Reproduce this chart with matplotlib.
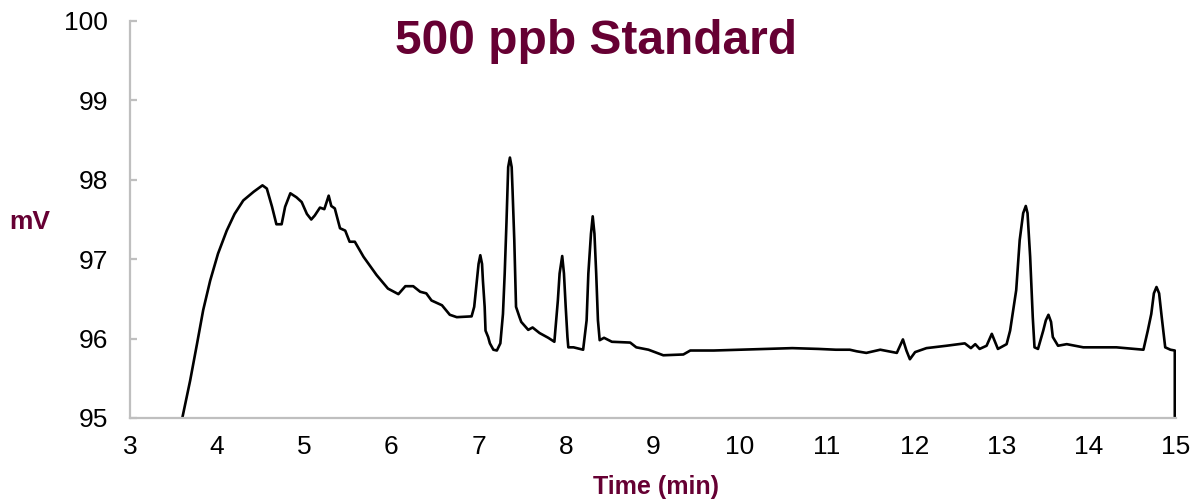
import matplotlib
matplotlib.use("Agg")
import matplotlib.pyplot as plt

time_min = [3.60, 3.69, 3.77, 3.84, 3.92, 4.01, 4.11, 4.20, 4.30, 4.42, 4.52, 4.57, 4.63,
            4.68, 4.74, 4.78, 4.84, 4.91, 4.97, 5.03, 5.08, 5.12, 5.18, 5.23, 5.28, 5.31, 5.35,
            5.41, 5.47, 5.52, 5.58, 5.68, 5.83, 5.96, 6.08, 6.16, 6.25, 6.33, 6.40, 6.46, 6.58,
            6.67, 6.75, 6.92, 6.95, 6.98, 7.00, 7.02, 7.04, 7.05, 7.07, 7.08, 7.11, 7.13, 7.17,
            7.21, 7.25, 7.28, 7.30, 7.32, 7.34, 7.36, 7.38, 7.39, 7.41, 7.43, 7.47, 7.49, 7.57,
            7.62, 7.70, 7.80, 7.87, 7.91, 7.93, 7.96, 7.98, 8.00, 8.02, 8.03, 8.09, 8.20, 8.24,
            8.26, 8.29, 8.31, 8.33, 8.35, 8.37, 8.39, 8.44, 8.53, 8.74, 8.81, 8.95, 9.12, 9.35,
            9.43, 9.53, 9.70, 10.00, 10.30, 10.60, 10.90, 11.10, 11.26, 11.34, 11.45, 11.61,
            11.80, 11.87, 11.91, 11.95, 12.01, 12.14, 12.37, 12.58, 12.65, 12.70, 12.75, 12.83,
            12.89, 12.96, 13.06, 13.10, 13.17, 13.21, 13.25, 13.28, 13.30, 13.33, 13.36, 13.38,
            13.42, 13.48, 13.51, 13.54, 13.57, 13.59, 13.65, 13.75, 13.94, 14.32, 14.63, 14.68,
            14.72, 14.75, 14.78, 14.81, 14.84, 14.88, 14.94, 14.99, 14.99]
signal_mv = [95.00, 95.47, 95.94, 96.36, 96.73, 97.07, 97.36, 97.57, 97.74, 97.85, 97.93, 97.89, 97.66,
             97.44, 97.44, 97.66, 97.83, 97.78, 97.72, 97.57, 97.50, 97.55, 97.65, 97.63, 97.80, 97.67, 97.64,
             97.39, 97.36, 97.22, 97.22, 97.03, 96.80, 96.63, 96.56, 96.66, 96.66, 96.59, 96.57, 96.48, 96.42,
             96.30, 96.27, 96.28, 96.40, 96.73, 96.94, 97.05, 96.94, 96.73, 96.40, 96.10, 96.02, 95.94, 95.86,
             95.85, 95.94, 96.31, 96.82, 97.45, 98.16, 98.28, 98.16, 97.87, 97.24, 96.40, 96.27, 96.21, 96.11,
             96.14, 96.07, 96.01, 95.96, 96.48, 96.82, 97.04, 96.82, 96.40, 96.02, 95.89, 95.89, 95.86, 96.23,
             96.82, 97.32, 97.54, 97.32, 96.82, 96.23, 95.98, 96.01, 95.96, 95.95, 95.89, 95.86, 95.79, 95.80,
             95.85, 95.85, 95.85, 95.86, 95.87, 95.88, 95.87, 95.86, 95.86, 95.84, 95.82, 95.86,
             95.82, 95.99, 95.85, 95.74, 95.83, 95.88, 95.91, 95.94, 95.88, 95.93, 95.87, 95.91,
             96.06, 95.87, 95.93, 96.10, 96.61, 97.24, 97.58, 97.67, 97.58, 97.03, 96.27, 95.89,
             95.87, 96.10, 96.23, 96.30, 96.21, 96.02, 95.91, 95.93, 95.89, 95.89, 95.86, 96.10,
             96.31, 96.57, 96.65, 96.57, 96.27, 95.89, 95.86, 95.85, 95.00]

x_ticks = [3, 4, 5, 6, 7, 8, 9, 10, 11, 12, 13, 14, 15]
y_ticks = [95, 96, 97, 98, 99, 100]

title_text = "500 ppb Standard"
x_label = "Time (min)"
y_label = "mV"

maroon = "#660033"
spine_gray = "#BFBFBF"

plt.rcParams['font.family'] = ['Liberation Sans', 'DejaVu Sans']

fig = plt.figure(figsize=(11.96, 5.0), dpi=100)
ax = fig.add_axes([0.1087, 0.164, 0.8743, 0.794])

ax.plot(time_min, signal_mv, color="black", linewidth=1.9,
        solid_joinstyle="round", solid_capstyle="round")

ax.set_xlim(3, 15)
ax.set_ylim(95, 100)
ax.set_xticks(x_ticks)
ax.set_yticks(y_ticks)
ax.set_xticklabels([str(t) for t in x_ticks])
ax.set_yticklabels([str(t) for t in y_ticks])

for s in ["top", "right"]:
    ax.spines[s].set_visible(False)
for s in ["left", "bottom"]:
    ax.spines[s].set_color(spine_gray)
    ax.spines[s].set_linewidth(1.6)

ax.tick_params(axis="x", length=0, pad=12, labelsize=19, colors="black")
ax.tick_params(axis="y", direction="in", length=5, width=1.6, color=spine_gray,
               pad=16, labelsize=19, labelcolor="black")

fig.text(0.498, 0.916, title_text, ha="center", va="center", fontsize=34.5,
         fontweight="bold", color=maroon)
fig.text(0.025, 0.556, y_label, ha="center", va="center", fontsize=19,
         fontweight="bold", color=maroon)
fig.text(0.5485, 0.026, x_label, ha="center", va="center", fontsize=18,
         fontweight="bold", color=maroon)

fig.savefig("out.png", dpi=100, facecolor="white")
